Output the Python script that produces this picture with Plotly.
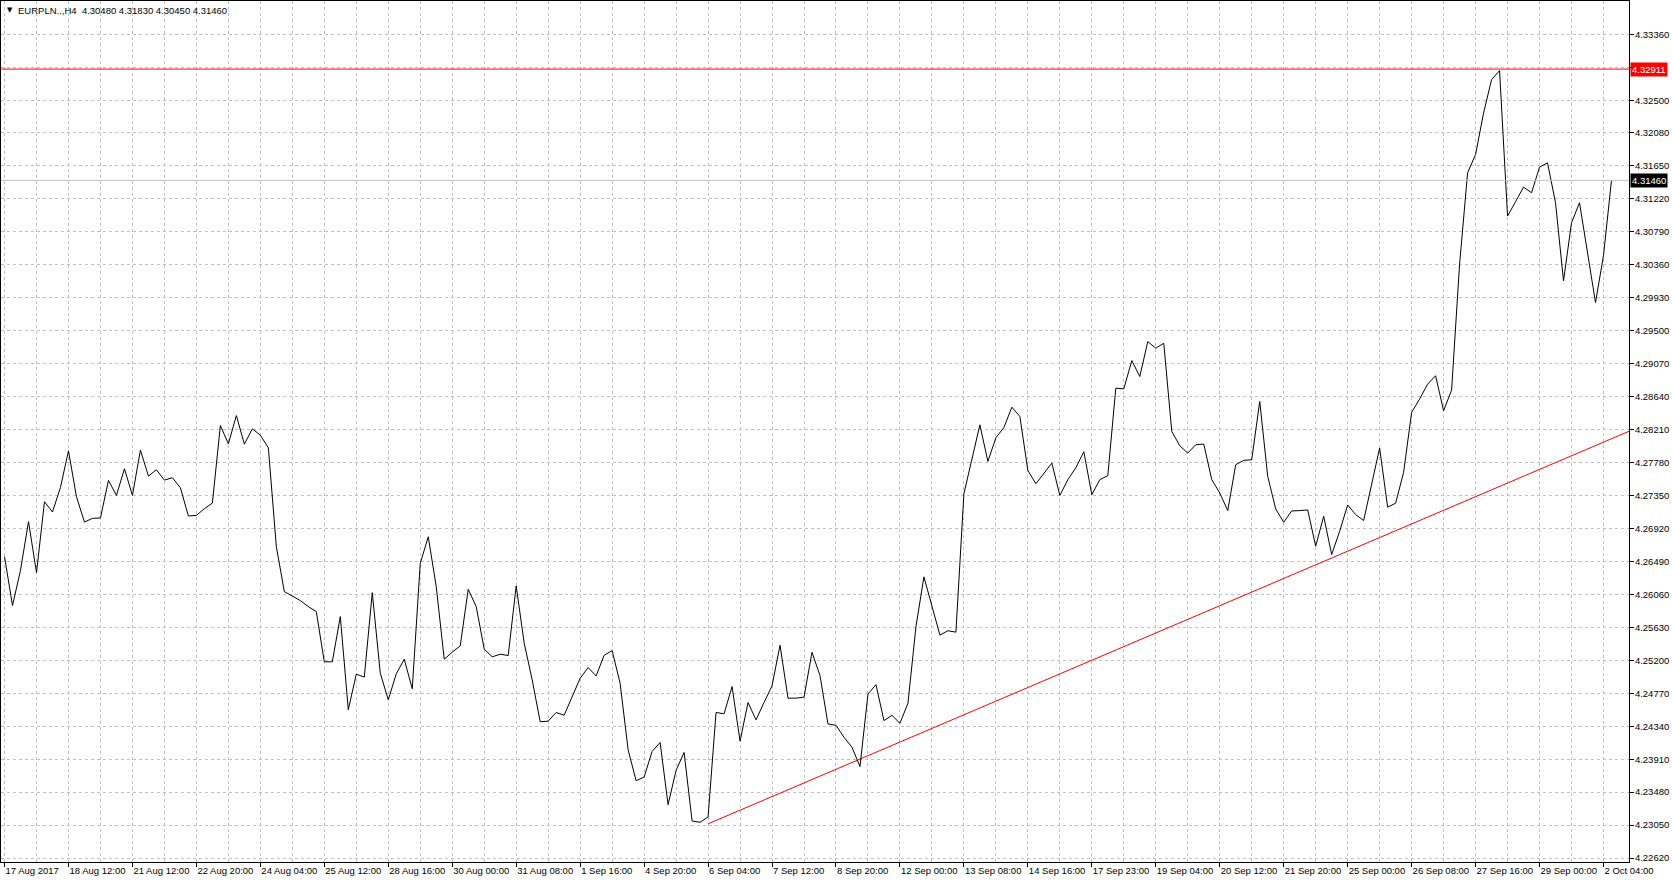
import plotly.graph_objects as go

# MT4 style line chart, EURPLN H4
symbol = "EURPLN..,H4"
last_ohlc = ["4.30480", "4.31830", "4.30450", "4.31460"]

closes = [
    4.26552, 4.25914, 4.26374, 4.27008, 4.26344, 4.27268, 4.27134, 4.27455,
    4.27932, 4.27333, 4.27003, 4.27051, 4.27056, 4.27546, 4.27351, 4.27698,
    4.27351, 4.27941, 4.27602, 4.27685, 4.27550, 4.27581, 4.27450, 4.27082,
    4.27090, 4.27177, 4.27251, 4.28262, 4.28023, 4.28392, 4.28019, 4.28219,
    4.28136, 4.27971, 4.26682, 4.26095, 4.26039, 4.25978, 4.25900, 4.25835,
    4.25180, 4.25180, 4.25770, 4.24555, 4.25019, 4.24980, 4.26082, 4.25032,
    4.24685, 4.25023, 4.25214, 4.24828, 4.26464, 4.26811, 4.26160, 4.25214,
    4.25306, 4.25388, 4.26126, 4.25900, 4.25345, 4.25245, 4.25279, 4.25262,
    4.26169, 4.25423, 4.24945, 4.24398, 4.24406, 4.24519, 4.24484, 4.24714,
    4.24966, 4.25105, 4.24996, 4.25265, 4.25326, 4.24901, 4.24033, 4.23629,
    4.23677, 4.24011, 4.24128, 4.23317, 4.23764, 4.23998, 4.23104, 4.23087,
    4.23156, 4.24519, 4.24502, 4.24857, 4.24146, 4.24649, 4.24423, 4.24649,
    4.24866, 4.25396, 4.24706, 4.24706, 4.24719, 4.25304, 4.25000, 4.24369,
    4.24352, 4.24196, 4.24066, 4.23814, 4.24760, 4.24882, 4.24413, 4.24482,
    4.24378, 4.24639, 4.25637, 4.26288, 4.25897, 4.25528, 4.25585, 4.25567,
    4.27373, 4.27807, 4.28271, 4.27794, 4.28102, 4.28236, 4.28501, 4.28380,
    4.27677, 4.27503, 4.27642, 4.27772, 4.27351, 4.27555, 4.27711, 4.27920,
    4.27360, 4.27556, 4.27608, 4.28749, 4.28740, 4.29109, 4.28901, 4.29357,
    4.29270, 4.29335, 4.28185, 4.27998, 4.27903, 4.28011, 4.28020, 4.27556,
    4.27382, 4.27152, 4.27751, 4.27807, 4.27816, 4.28576, 4.27599, 4.27174,
    4.27000, 4.27148, 4.27152, 4.27161, 4.26688, 4.27078, 4.26579, 4.26883,
    4.27226, 4.27100, 4.27023, 4.27500, 4.27969, 4.27197, 4.27249, 4.27652,
    4.28433, 4.28607, 4.28802, 4.28911, 4.28455, 4.28724, 4.30365, 4.31558,
    4.31797, 4.32339, 4.32773, 4.32891, 4.30994, 4.31181, 4.31372, 4.31298,
    4.31632, 4.31688, 4.31168, 4.30148, 4.30907, 4.31168, 4.30538, 4.29866,
    4.30480, 4.31460,
]
bars = list(range(len(closes)))

date_labels = [
    "17 Aug 2017", "18 Aug 12:00", "21 Aug 12:00", "22 Aug 20:00", "24 Aug 04:00",
    "25 Aug 12:00", "28 Aug 16:00", "30 Aug 00:00", "31 Aug 08:00", "1 Sep 16:00",
    "4 Sep 20:00", "6 Sep 04:00", "7 Sep 12:00", "8 Sep 20:00", "12 Sep 00:00",
    "13 Sep 08:00", "14 Sep 16:00", "17 Sep 23:00", "19 Sep 04:00", "20 Sep 12:00",
    "21 Sep 20:00", "25 Sep 00:00", "26 Sep 08:00", "27 Sep 16:00", "29 Sep 00:00",
    "2 Oct 04:00",
]
label_every = 8
grid_every = 4

price_labels = [
    "4.22620", "4.23050", "4.23480", "4.23910", "4.24340", "4.24770", "4.25200",
    "4.25630", "4.26060", "4.26490", "4.26920", "4.27350", "4.27780", "4.28210",
    "4.28640", "4.29070", "4.29500", "4.29930", "4.30360", "4.30790", "4.31220",
    "4.31650", "4.32080", "4.32500", "4.32930", "4.33360",
]

resistance = 4.32911
trend_bars = [88, 166]
trend_prices = [4.23067, 4.26534]

x_range = [-0.44, 203.19]
y_range = [4.22569, 4.33799]

font_family = "Liberation Sans"
grid_color = "#c0c0c0"

fig = go.Figure()

# trend line, drawn as a ray to the right edge
slope = (trend_prices[1] - trend_prices[0]) / (trend_bars[1] - trend_bars[0])
ray_x = [trend_bars[0], x_range[1]]
ray_y = [trend_prices[0], trend_prices[0] + slope * (x_range[1] - trend_bars[0])]
fig.add_trace(go.Scatter(x=ray_x, y=ray_y, mode="lines",
                         line=dict(color="#ff0000", width=1), hoverinfo="skip"))

fig.add_trace(go.Scatter(x=bars, y=closes, mode="lines",
                         line=dict(color="#000000", width=1), hoverinfo="skip"))

fig.add_hline(y=resistance, line=dict(color="#ff0000", width=1))
fig.add_hline(y=closes[-1], line=dict(color="#c0c0c0", width=1))

label_bars = [i * label_every for i in range(len(date_labels))]
grid_bars = list(range(0, int(x_range[1]) + 1, grid_every))

# the scale label hidden behind the red price tag is left blank
price_text = ["" if abs(float(s) - resistance) < 0.0015 else s for s in price_labels]

fig.update_xaxes(
    range=x_range,
    automargin=False,
    tickmode="array",
    tickvals=label_bars,
    ticktext=date_labels,
    tickangle=0,
    ticks="outside",
    ticklen=4,
    tickcolor="#000000",
    ticklabelposition="outside right",
    showgrid=True,
    gridcolor=grid_color,
    griddash="3px,3px",
    gridwidth=1,
    minor=dict(tickvals=grid_bars, showgrid=True, gridcolor=grid_color,
               griddash="3px,3px", ticks=""),
    showline=True,
    linecolor="#000000",
    linewidth=1,
    mirror=True,
    zeroline=False,
    tickfont=dict(family=font_family, size=9.5, color="#000000"),
)

fig.update_yaxes(
    range=y_range,
    automargin=False,
    side="right",
    tickmode="array",
    tickvals=[float(s) for s in price_labels],
    ticktext=price_text,
    ticks="outside",
    ticklen=4,
    tickcolor="#000000",
    ticklabelstandoff=-1,
    showgrid=True,
    gridcolor=grid_color,
    griddash="3px,3px",
    gridwidth=1,
    showline=True,
    linecolor="#000000",
    linewidth=1,
    mirror=True,
    zeroline=False,
    tickfont=dict(family=font_family, size=9.5, color="#000000"),
)

# price tags on the right scale
for level, bg in [(resistance, "#ff0000"), (closes[-1], "#000000")]:
    fig.add_annotation(
        x=1, xref="paper", xanchor="left", xshift=1,
        y=level, yref="y", yanchor="middle",
        text=f"{level:.5f}", showarrow=False,
        font=dict(family=font_family, size=9.5, color="#ffffff"),
        bgcolor=bg, borderpad=1,
    )

# header
fig.add_annotation(
    x=0, xref="paper", xanchor="left", xshift=4,
    y=1, yref="paper", yanchor="top", yshift=-3,
    text="▼", showarrow=False,
    font=dict(family="DejaVu Sans", size=7, color="#000000"),
)
fig.add_annotation(
    x=0, xref="paper", xanchor="left", xshift=15,
    y=1, yref="paper", yanchor="top", yshift=-2,
    text=symbol + "  " + " ".join(last_ohlc), showarrow=False,
    font=dict(family=font_family, size=9.5, color="#000000"),
)

fig.update_layout(
    width=1672,
    height=882,
    margin=dict(l=1, r=43, t=1, b=20, autoexpand=False),
    paper_bgcolor="#ffffff",
    plot_bgcolor="#ffffff",
    showlegend=False,
)

fig.write_html(
    "out.html",
    config={"displayModeBar": False},
    post_script="document.body.style.margin='0';document.body.style.overflow='hidden';",
)
